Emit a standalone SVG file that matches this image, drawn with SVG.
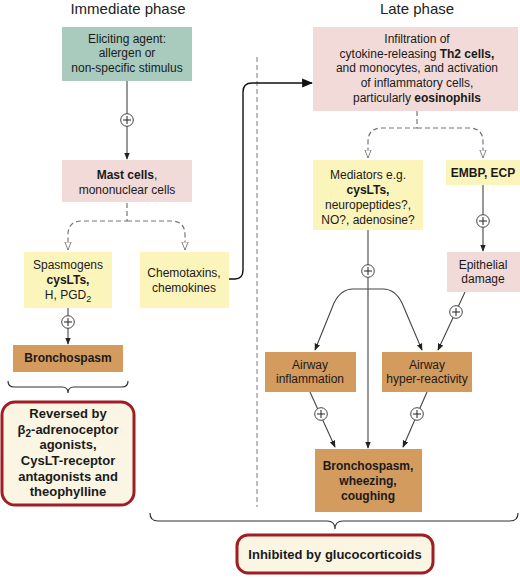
<svg xmlns="http://www.w3.org/2000/svg" width="520" height="580" viewBox="0 0 520 580">
<defs>
<style>
text{font-family:"Liberation Sans",Arial,sans-serif;font-size:12px;fill:#1a1a1a;text-anchor:middle}
.b{font-weight:bold}
.title{font-size:15px;fill:#222}
.teal{fill:#a8cbbe}
.pink{fill:#f1dad8}
.yel{fill:#fcf5bb}
.org{fill:#d49b5f}
.note{fill:#fbf6e4;stroke:#a11d24;stroke-width:3}
.note text{font-size:13px;font-weight:bold}
.ln{fill:none;stroke:#444;stroke-width:1.1}
.dash{fill:none;stroke:#777;stroke-width:1.2;stroke-dasharray:5 3}
.div{fill:none;stroke:#888;stroke-width:1.1;stroke-dasharray:5 3}
.brace{fill:none;stroke:#333;stroke-width:1.2}
</style>
<marker id="ah" viewBox="0 0 10 10" refX="9" refY="5" markerWidth="7" markerHeight="7" orient="auto" markerUnits="userSpaceOnUse">
<path d="M0,1 L10,5 L0,9 Z" fill="#222"/>
</marker>
<marker id="ahb" viewBox="0 0 10 10" refX="9" refY="5" markerWidth="11" markerHeight="11" orient="auto" markerUnits="userSpaceOnUse">
<path d="M0,1 L10,5 L0,9 Z" fill="#111"/>
</marker>
<marker id="oh" viewBox="0 0 10 10" refX="9" refY="5" markerWidth="9" markerHeight="9" orient="auto" markerUnits="userSpaceOnUse">
<path d="M0,1.5 L9,5 L0,8.5 Z" fill="#fff" stroke="#777" stroke-width="1"/>
</marker>
<g id="plus">
<circle cx="0" cy="0" r="6.3" fill="#fff" stroke="#444" stroke-width="1"/>
<line x1="-4" y1="0" x2="4" y2="0" stroke="#333" stroke-width="1.1"/>
<line x1="0" y1="-4" x2="0" y2="4" stroke="#333" stroke-width="1.1"/>
</g>
</defs>

<rect width="520" height="580" fill="#fff"/>

<text class="title" x="128" y="14">Immediate phase</text>
<text class="title" x="417" y="14">Late phase</text>

<g id="connectors">
<path class="div" d="M257 57 V507"/>
<path class="ln" d="M127 81 V159" marker-end="url(#ah)"/>
<path class="dash" d="M127 203 V221 H82 Q68 221 68 235 V250" marker-end="url(#oh)"/>
<path class="dash" d="M127 221 H171 Q185 221 185 235 V250" marker-end="url(#oh)"/>
<path class="ln" d="M68 308 V344" marker-end="url(#ah)"/>
<path fill="none" stroke="#111" stroke-width="1.4" d="M229 279 H235 Q243 279 243 270 V92 Q243 83 252 83 H312" marker-end="url(#ahb)"/>
<path class="dash" d="M417 111 V128 H382 Q368 128 368 142 V158" marker-end="url(#oh)"/>
<path class="dash" d="M417 128 H469 Q483 128 483 142 V158" marker-end="url(#oh)"/>
<path class="ln" d="M483 185 V251" marker-end="url(#ah)"/>
<path class="ln" d="M368 230 V448" marker-end="url(#ah)"/>
<path class="ln" d="M368 289 H353 Q341 289 334 303 L315 350" marker-end="url(#ah)"/>
<path class="ln" d="M368 289 H383 Q395 289 402 303 L422 350" marker-end="url(#ah)"/>
<path class="ln" d="M465 292 L438 350" marker-end="url(#ah)"/>
<path class="ln" d="M310 392 L335 447" marker-end="url(#ah)"/>
<path class="ln" d="M427 392 L403 447" marker-end="url(#ah)"/>
<path class="brace" d="M8 381 Q8 387 14 387 H62 Q68 387 68 393 Q68 387 74 387 H122 Q128 387 128 381"/>
<path class="brace" d="M150 513 Q150 521 158 521 H327 Q335 521 335 529 Q335 521 343 521 H510 Q518 521 518 513"/>
<g id="plus-signs">
<use href="#plus" x="127" y="120"/>
<use href="#plus" x="68" y="322"/>
<use href="#plus" x="483" y="221"/>
<use href="#plus" x="368" y="271"/>
<use href="#plus" x="456" y="312"/>
<use href="#plus" x="321" y="414"/>
<use href="#plus" x="417" y="414"/>
</g>
</g>

<g id="eliciting">
<rect class="teal" x="62" y="27" width="130" height="54"/>
<text x="127" y="43">Eliciting agent:</text>
<text x="127" y="57">allergen or</text>
<text x="127" y="72">non-specific stimulus</text>
</g>

<g id="mast">
<rect class="pink" x="62" y="160" width="130" height="42"/>
<text x="127" y="179"><tspan class="b">Mast cells</tspan>,</text>
<text x="127" y="194">mononuclear cells</text>
</g>

<g id="spasmogens">
<rect class="yel" x="24" y="252" width="88" height="56"/>
<text x="68" y="269">Spasmogens</text>
<text x="68" y="284" class="b">cysLTs,</text>
<text x="68" y="299">H, PGD<tspan dy="3" font-size="9">2</tspan></text>
</g>

<g id="chemotaxins">
<rect class="yel" x="140" y="252" width="89" height="56"/>
<text x="184" y="277">Chemotaxins,</text>
<text x="184" y="292">chemokines</text>
</g>

<g id="bronchospasm1">
<rect class="org" x="13" y="345" width="110" height="27"/>
<text x="68" y="362" class="b">Bronchospasm</text>
</g>

<g id="reversed" class="note">
<rect x="2" y="402" width="132" height="103" rx="13"/>
<text x="68" y="418" stroke="none">Reversed by</text>
<text x="68" y="434" stroke="none">β<tspan dy="3" font-size="10">2</tspan><tspan dy="-3">-adrenoceptor</tspan></text>
<text x="68" y="449" stroke="none">agonists,</text>
<text x="68" y="465" stroke="none">CysLT-receptor</text>
<text x="68" y="481" stroke="none">antagonists and</text>
<text x="68" y="496" stroke="none">theophylline</text>
</g>

<g id="infiltration">
<rect class="pink" x="313" y="27" width="205" height="84"/>
<text x="417" y="43">Infiltration of</text>
<text x="417" y="58">cytokine-releasing <tspan class="b">Th2 cells,</tspan></text>
<text x="417" y="72">and monocytes, and activation</text>
<text x="417" y="87">of inflammatory cells,</text>
<text x="417" y="102">particularly <tspan class="b">eosinophils</tspan></text>
</g>

<g id="mediators">
<rect class="yel" x="313" y="160" width="110" height="70"/>
<text x="368" y="179">Mediators e.g.</text>
<text x="368" y="194" class="b">cysLTs,</text>
<text x="368" y="209">neuropeptides?,</text>
<text x="368" y="224">NO?, adenosine?</text>
</g>

<g id="embp">
<rect class="yel" x="446" y="160" width="74" height="25"/>
<text x="483" y="177" class="b">EMBP, ECP</text>
</g>

<g id="epithelial">
<rect class="pink" x="447" y="252" width="73" height="40"/>
<text x="483" y="269">Epithelial</text>
<text x="483" y="283">damage</text>
</g>

<g id="inflammation">
<rect class="org" x="265" y="352" width="91" height="40"/>
<text x="310" y="369">Airway</text>
<text x="310" y="383">inflammation</text>
</g>

<g id="hyperreactivity">
<rect class="org" x="382" y="352" width="90" height="40"/>
<text x="427" y="369">Airway</text>
<text x="427" y="383">hyper-reactivity</text>
</g>

<g id="bronchospasm2">
<rect class="org" x="315" y="449" width="107" height="63"/>
<text x="368" y="470" class="b">Bronchospasm,</text>
<text x="368" y="485" class="b">wheezing,</text>
<text x="368" y="500" class="b">coughing</text>
</g>

<g id="inhibited" class="note">
<rect x="237" y="535" width="196" height="38" rx="11"/>
<text x="335" y="559" stroke="none">Inhibited by glucocorticoids</text>
</g>
</svg>
